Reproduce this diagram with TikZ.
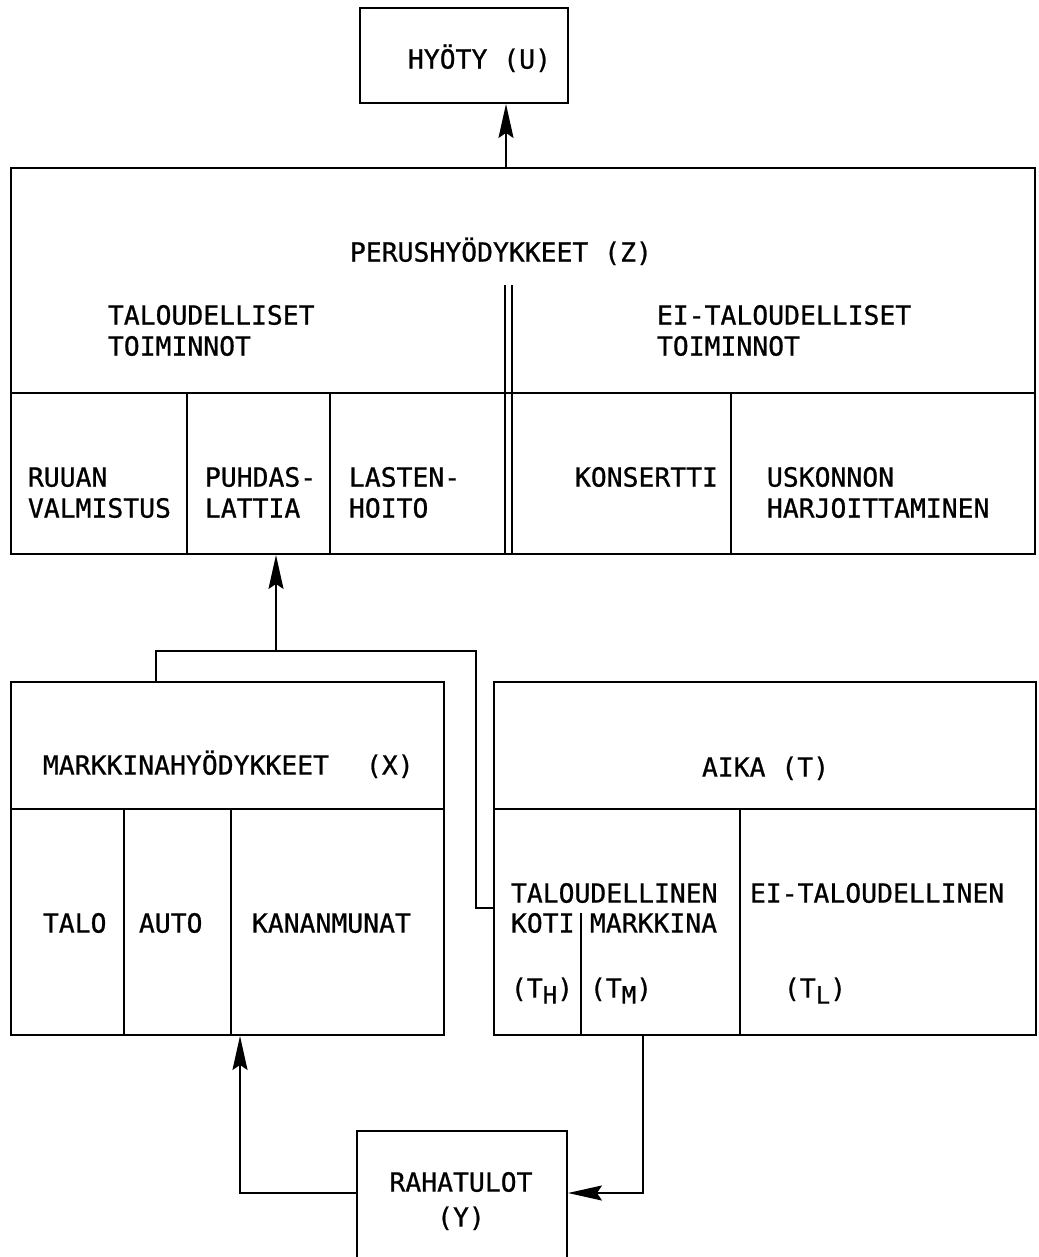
\documentclass[tikz,border=0pt]{standalone}
\usepackage{fontspec}
\setmonofont[FakeBold=0.8]{DejaVu Sans Mono}
\usetikzlibrary{arrows.meta}
\newcommand{\lowsub}[1]{\raisebox{-6pt}{\fontsize{24}{24}\selectfont #1}}
\begin{document}
\begin{tikzpicture}[x=1pt,y=-1pt, line width=1.9pt,
  lbl/.style={inner sep=0pt, anchor=base west, align=left, font=\ttfamily\fontsize{26.4}{31}\selectfont},
  box/.style={draw, inner sep=0pt, rectangle},
  arr/.style={-{Stealth[length=34pt,width=15pt,inset=5pt]}}]
\clip (0,0) rectangle (1038,1257);
\fill[white] (0,0) rectangle (1038,1257);

% boxes
\node[box, minimum width=208pt, minimum height=95pt] (u) at (464,55.5) {};
\node[box, minimum width=1024pt, minimum height=386pt] (z) at (523,361) {};
\node[box, minimum width=433pt, minimum height=353pt] (mx) at (227.5,858.5) {};
\node[box, minimum width=542pt, minimum height=353pt] (at) at (765,858.5) {};
\node[box, minimum width=210pt, minimum height=169pt] (ry) at (462,1215.5) {};

% internal lines of Z
\draw (11,393) -- (1035,393);
\draw (187,393) -- (187,554);
\draw (330,393) -- (330,554);
\draw (505,285) -- (505,554);
\draw (512,285) -- (512,554);
\draw (731,393) -- (731,554);

% internal lines of X
\draw (11,809) -- (444,809);
\draw (124,809) -- (124,1035);
\draw (231,809) -- (231,1035);

% internal lines of T
\draw (494,809) -- (1036,809);
\draw (740,809) -- (740,1035);
\draw (581,913) -- (581,1035);

% texts (base anchor of a two-line node = baseline of its last line)
\node[lbl] (tu) at (407,68.6) {HYÖTY (U)};
\node[lbl] (tz) at (349,261.6) {PERUSHYÖDYKKEET (Z)};
\node[lbl] (tt1) at (107,355.6) {TALOUDELLISET\\TOIMINNOT};
\node[lbl] (tt2) at (656,355.6) {EI-TALOUDELLISET\\TOIMINNOT};
\node[lbl] (a1) at (27,517.6) {RUUAN\\VALMISTUS};
\node[lbl] (a2) at (204,517.6) {PUHDAS-\\LATTIA};
\node[lbl] (a3) at (348,517.6) {LASTEN-\\HOITO};
\node[lbl] (a4) at (574,486.6) {KONSERTTI};
\node[lbl] (a5) at (766,517.6) {USKONNON\\HARJOITTAMINEN};
\node[lbl] (tx) at (42,774.6) {MARKKINAHYÖDYKKEET\hspace{37pt}(X)};
\node[lbl] (b1) at (42,932.6) {TALO};
\node[lbl] (b2) at (138,932.6) {AUTO};
\node[lbl] (b3) at (251,932.6) {KANANMUNAT};
\node[lbl] (tT) at (701,776.6) {AIKA (T)};
\node[lbl] (c1t) at (510,902.6) {TALOUDELLINEN};
\node[lbl] (c2t) at (510,932.6) {KOTI};
\node[lbl] (c3t) at (589,932.6) {MARKKINA};
\node[lbl] (c4t) at (749,902.6) {EI-TALOUDELLINEN};
\node[lbl] (d1) at (510,997.6) {(T\lowsub{H})};
\node[lbl] (d2) at (589,997.6) {(T\lowsub{M})};
\node[lbl] (d3) at (783,997.6) {(T\lowsub{L})};
\node[lbl, anchor=base, align=center] (ty) at (461,1226.6) {RAHATULOT\\[4pt](Y)};

% connectors
\coordinate (c0) at (506,0);
\draw[arr] (c0 |- z.north) -- (c0 |- u.south);
\coordinate (j) at (276,651);
\coordinate (k1) at (156,651);
\coordinate (k2) at (476,651);
\coordinate (k3) at (476,908);
\draw[arr] (j) -- (j |- z.south);
\draw (k1 |- mx.north) -- (k1) -- (k2) -- (k3) -- (k3 -| at.west);
\coordinate (r1) at (643,1193);
\draw[arr] (r1 |- at.south) -- (r1) -- (r1 -| ry.east);
\coordinate (r2) at (240,1193);
\draw[arr] (r2 -| ry.west) -- (r2) -- (r2 |- mx.south);
\end{tikzpicture}
\end{document}
